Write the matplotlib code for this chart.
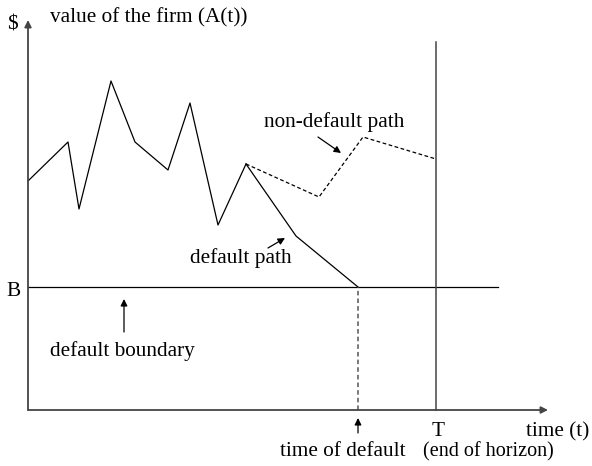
import matplotlib
matplotlib.use("Agg")
import matplotlib.pyplot as plt

# firm value path before the split (time, value)
path_t = [0, 40, 51, 83, 107, 140, 162, 190, 218]
path_a = [229, 268, 201, 329, 268, 240, 307, 185, 246]

# branch that hits the boundary
default_t = [218, 268, 330]
default_a = [246, 174, 123]

# branch that survives to the horizon
nondefault_t = [218, 291, 335, 408]
nondefault_a = [246, 213, 273, 251]

B = 123          # default boundary
T = 408          # end of horizon
tau = 330        # time of default
t_end = 470      # where the boundary line stops

plt.rcParams["font.family"] = ["Liberation Serif", "DejaVu Serif"]

fig = plt.figure(figsize=(5.92, 4.66), dpi=100)
ax = fig.add_axes([0, 0, 1, 1])
ax.set_xlim(-28, 564)
ax.set_ylim(-56, 410)
ax.axis("off")

ink = "black"
axis_col = "#444444"

# axes with arrows
ax.annotate("", xy=(0, 390), xytext=(0, 0),
            arrowprops=dict(arrowstyle="-|>", color=axis_col, lw=1.3, mutation_scale=10,
                            shrinkA=0, shrinkB=0))
ax.annotate("", xy=(520, 0), xytext=(0, 0),
            arrowprops=dict(arrowstyle="-|>", color=axis_col, lw=1.3, mutation_scale=10,
                            shrinkA=0, shrinkB=0))

# paths
ax.plot(path_t, path_a, color=ink, lw=0.9)
ax.plot(default_t, default_a, color=ink, lw=0.9)
ax.plot(nondefault_t, nondefault_a, color=ink, lw=0.9, dashes=(3, 2))

# boundary, horizon, default time
ax.plot([0, t_end], [B, B], color=ink, lw=0.9)
ax.plot([T, T], [0, 368], color=axis_col, lw=1.1)
ax.plot([tau, tau], [0, B], color="#555555", lw=1.1, dashes=(3, 2))

# labels
fs = 15.3
ax.text(-16, 385, "$", fontsize=fs, ha="center", va="center")
ax.text(121, 392, "value of the firm (A(t))", fontsize=fs, ha="center", va="center")
ax.text(-15, 119, "B", fontsize=fs, ha="center", va="center")
ax.text(306, 288, "non-default path", fontsize=fs, ha="center", va="center")
ax.text(213, 152, "default path", fontsize=fs, ha="center", va="center")
ax.text(94, 59, "default boundary", fontsize=fs, ha="center", va="center")
ax.text(315, -42, "time of default", fontsize=fs, ha="center", va="center")
ax.text(410, -22, "T", fontsize=fs, ha="center", va="center")
ax.text(530, -22, "time (t)", fontsize=fs, ha="center", va="center")
ax.text(460, -42, "(end of horizon)", fontsize=14.5, ha="center", va="center")

# pointer arrows
arrow_kw = dict(arrowstyle="-|>", color=ink, lw=0.9, mutation_scale=10, shrinkA=0, shrinkB=0)
ax.annotate("", xy=(313, 257), xytext=(290, 273), arrowprops=arrow_kw)
ax.annotate("", xy=(257, 172), xytext=(240, 162), arrowprops=arrow_kw)
ax.annotate("", xy=(96, 111), xytext=(96, 78), arrowprops=arrow_kw)
ax.annotate("", xy=(tau, -8), xytext=(tau, -23), arrowprops=arrow_kw)

fig.savefig("out.png", dpi=100)
